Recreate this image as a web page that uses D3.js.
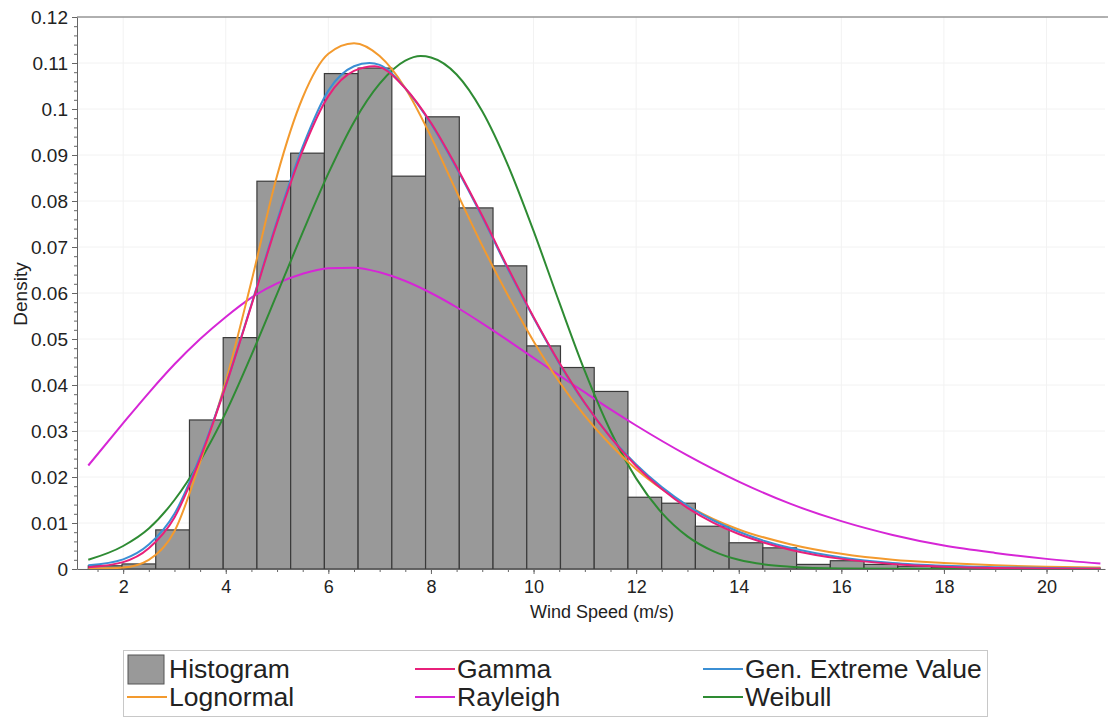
<!DOCTYPE html>
<html>
<head>
<meta charset="utf-8">
<script src="https://cdn.jsdelivr.net/npm/d3@7"></script>
<style>
  body { margin: 0; background: #fff; }
  text { font-family: "Liberation Sans", Arial, sans-serif; fill: #222; }
</style>
</head>
<body>
<script>
// histogram: 30 bins starting at 1.32 m/s, each 0.6575 wide
var binStart = 1.32;
var binWidth = 0.6575;
var histDensity = [0.0007, 0.0011, 0.0085, 0.0324, 0.0503, 0.0843, 0.0904, 0.1077, 0.1089, 0.0854,
                   0.0983, 0.0785, 0.0659, 0.0485, 0.0438, 0.0386, 0.0156, 0.0143, 0.0093, 0.0057,
                   0.0046, 0.0010, 0.0018, 0.0010, 0.0006, 0.0004, 0.0003, 0.0003, 0.0002, 0.0002];

// fitted curves as [wind speed, density]
var gammaPts = [[1.32,0.0004],[2,0.0015],[2.5,0.0045],[3,0.0112],[3.5,0.0240],[4,0.0398],[4.5,0.0573],
  [5,0.0752],[5.5,0.0910],[6,0.1028],[6.5,0.1083],[6.9,0.1093],[7,0.1091],[7.5,0.1045],[8,0.0970],[8.5,0.0874],
  [9,0.0768],[9.5,0.0655],[10,0.0548],[10.5,0.0449],[11,0.0361],[11.5,0.0286],[12,0.0224],[12.5,0.0174],
  [13,0.0133],[13.5,0.0101],[14,0.0076],[14.5,0.0057],[15,0.0042],[16,0.0022],[17,0.0011],[18,0.0005],
  [19,0.0002],[20,0.0001],[21.05,0.00005]];
var gevPts = [[1.32,0.0008],[2,0.0021],[2.5,0.0053],[3,0.0120],[3.5,0.0245],[4,0.0400],[4.5,0.0575],
  [5,0.0757],[5.5,0.0918],[6,0.1040],[6.5,0.1093],[6.8,0.1100],[7,0.1096],[7.5,0.1045],[8,0.0968],[8.5,0.0871],
  [9,0.0765],[9.5,0.0652],[10,0.0546],[10.5,0.0447],[11,0.0360],[11.5,0.0287],[12,0.0227],[12.5,0.0178],
  [13,0.0138],[13.5,0.0106],[14,0.0081],[14.5,0.0061],[15,0.0046],[16,0.0025],[17,0.0013],[18,0.0007],
  [19,0.0004],[20,0.0002],[21.05,0.0001]];
var lognormalPts = [[1.32,0.0],[2,0.0003],[2.5,0.0020],[3,0.0082],[3.5,0.0232],[4,0.0408],[4.5,0.0625],
  [5,0.0855],[5.5,0.1025],[6,0.1120],[6.5,0.1143],[7,0.1115],[7.5,0.1045],[8,0.0940],[8.5,0.0820],[9,0.0703],
  [9.5,0.0595],[10,0.0495],[10.5,0.0407],[11,0.0333],[11.5,0.0270],[12,0.0217],[12.5,0.0174],[13,0.0138],
  [13.5,0.0109],[14,0.0086],[15,0.0054],[16,0.0033],[17,0.0020],[18,0.0013],[19,0.0008],[20,0.0005],[21.05,0.0003]];
var rayleighPts = [[1.32,0.0225],[2,0.0317],[2.5,0.0383],[3,0.0445],[3.5,0.0500],[4,0.0548],[4.5,0.0590],
  [5,0.0621],[5.5,0.0642],[6,0.0654],[6.5,0.0655],[7,0.0645],[7.5,0.0626],[8,0.0600],[8.5,0.0569],[9,0.0534],
  [9.5,0.0497],[10,0.0459],[10.5,0.0421],[11,0.0384],[11.5,0.0347],[12,0.0312],[13,0.0247],[14,0.0190],
  [15,0.0142],[16,0.0104],[17,0.0074],[18,0.0051],[19,0.0035],[20,0.0022],[21.05,0.0012]];
var weibullPts = [[1.32,0.0020],[2,0.0050],[2.5,0.0088],[3,0.0150],[3.5,0.0235],[4,0.0340],[4.5,0.0465],
  [5,0.0598],[5.5,0.0732],[6,0.0860],[6.5,0.0972],[7,0.1055],[7.5,0.1105],[7.8,0.1115],[8,0.1112],[8.5,0.1075],
  [9,0.0995],[9.5,0.0878],[10,0.0735],[10.5,0.0580],[11,0.0430],[11.5,0.0300],[12,0.0197],[12.5,0.0122],
  [13,0.0071],[13.5,0.0039],[14,0.0020],[14.5,0.0010],[15,0.0005],[16,0.0001],[17,0.00003],[21.05,0.0]];

var xTicks = [2, 4, 6, 8, 10, 12, 14, 16, 18, 20];
var yTicks = [0, 0.01, 0.02, 0.03, 0.04, 0.05, 0.06, 0.07, 0.08, 0.09, 0.1, 0.11, 0.12];

var legendNames = ['Histogram', 'Gamma', 'Gen. Extreme Value', 'Lognormal', 'Rayleigh', 'Weibull'];
var legendColors = ['#999999', '#e8207a', '#3b8fd4', '#f39a2e', '#d626d6', '#2e8b33'];

var width = 1108, height = 719;

var svg = d3.select('body').append('svg')
  .attr('width', width)
  .attr('height', height);

var x = d3.scaleLinear().domain([1.1, 21.14]).range([77, 1105]);
var y = d3.scaleLinear().domain([0, 0.12]).range([569, 17]);

// faint grid
svg.append('g').selectAll('line').data(xTicks).enter().append('line')
  .attr('x1', d => x(d)).attr('x2', d => x(d))
  .attr('y1', y(0)).attr('y2', y(0.12))
  .attr('stroke', '#f2f2f2');
svg.append('g').selectAll('line').data(yTicks).enter().append('line')
  .attr('x1', x.range()[0]).attr('x2', x.range()[1])
  .attr('y1', d => y(d)).attr('y2', d => y(d))
  .attr('stroke', '#f2f2f2');

svg.append('defs').append('clipPath').attr('id', 'plot')
  .append('rect').attr('x', x.range()[0]).attr('y', y(0.12))
  .attr('width', x.range()[1] - x.range()[0]).attr('height', y(0) - y(0.12));

// bars
svg.append('g').selectAll('rect').data(histDensity).enter().append('rect')
  .attr('x', (d, i) => x(binStart + i * binWidth))
  .attr('width', (d, i) => x(binStart + (i + 1) * binWidth) - x(binStart + i * binWidth))
  .attr('y', d => y(d))
  .attr('height', d => y(0) - y(d))
  .attr('fill', '#999999')
  .attr('stroke', '#3a3a3a')
  .attr('stroke-width', 1.2);

var line = d3.line()
  .x(d => x(d[0]))
  .y(d => y(d[1]))
  .curve(d3.curveMonotoneX);

var curves = [
  {pts: rayleighPts, color: legendColors[4]},
  {pts: weibullPts, color: legendColors[5]},
  {pts: lognormalPts, color: legendColors[3]},
  {pts: gevPts, color: legendColors[2]},
  {pts: gammaPts, color: legendColors[1]}
];
svg.append('g').attr('clip-path', 'url(#plot)').selectAll('path').data(curves).enter().append('path')
  .attr('d', d => line(d.pts))
  .attr('fill', 'none')
  .attr('stroke', d => d.color)
  .attr('stroke-width', 2);

// axes: minor ticks first, then majors with labels
var xAxis = svg.append('g').attr('transform', 'translate(0,' + y(0) + ')');
xAxis.call(d3.axisBottom(x).tickValues(d3.range(1.5, 21.01, 0.5)).tickSize(3).tickFormat(''));
xAxis.call(g => g.select('.domain').remove());
var xMajor = svg.append('g').attr('transform', 'translate(0,' + y(0) + ')')
  .call(d3.axisBottom(x).tickValues(xTicks).tickSize(5).tickSizeOuter(0).tickPadding(6));
xMajor.selectAll('text').style('font-size', '18px').attr('fill', '#222');

var yAxis = svg.append('g').attr('transform', 'translate(' + x.range()[0] + ',0)');
yAxis.call(d3.axisLeft(y).tickValues(d3.range(0, 0.1201, 0.002)).tickSize(3).tickFormat(''));
yAxis.call(g => g.select('.domain').remove());
var yMajor = svg.append('g').attr('transform', 'translate(' + x.range()[0] + ',0)')
  .call(d3.axisLeft(y).tickValues(yTicks).tickSize(5).tickSizeOuter(0).tickPadding(4)
    .tickFormat(d => String(+d.toFixed(2))));
yMajor.selectAll('text').style('font-size', '19px').attr('fill', '#222');
svg.selectAll('.domain, .tick line').attr('stroke', '#666');

// top border
svg.append('line').attr('x1', x.range()[0]).attr('x2', width).attr('y1', y(0.12)).attr('y2', y(0.12))
  .attr('stroke', '#666');

// titles
svg.append('text').attr('x', 602).attr('y', 618).attr('text-anchor', 'middle')
  .style('font-size', '18px').text('Wind Speed (m/s)');
svg.append('text').attr('transform', 'translate(27,294) rotate(-90)').attr('text-anchor', 'middle')
  .style('font-size', '19px').text('Density');

// legend
var legend = svg.append('g');
legend.append('rect').attr('x', 123.5).attr('y', 650.5).attr('width', 864).attr('height', 66)
  .attr('fill', '#fff').attr('stroke', '#c8c8c8');
var colX = [127, 415, 703];
var rowY = [669, 697];
legendNames.forEach(function(name, i) {
  var cx = colX[i % 3], cy = rowY[Math.floor(i / 3)];
  if (name === 'Histogram') {
    legend.append('rect').attr('x', cx + 1).attr('y', cy - 14).attr('width', 36).attr('height', 29)
      .attr('fill', legendColors[i]).attr('stroke', '#555');
  } else {
    legend.append('line').attr('x1', cx).attr('x2', cx + 40).attr('y1', cy).attr('y2', cy)
      .attr('stroke', legendColors[i]).attr('stroke-width', 2);
  }
  legend.append('text').attr('x', cx + 42).attr('y', cy + 9)
    .style('font-size', '26.5px').text(name);
});
</script>
</body>
</html>
